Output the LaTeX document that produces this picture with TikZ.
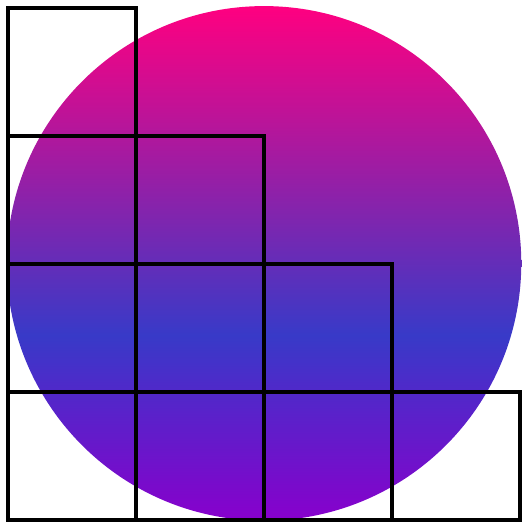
\documentclass[tikz,border=0pt]{standalone}
\usepackage{tikz}
\definecolor{disctop}{RGB}{255,0,128}
\definecolor{discmid}{RGB}{56,58,200}
\definecolor{discbot}{RGB}{136,0,204}
\pgfdeclareverticalshading{disc}{100bp}{color(0bp)=(discbot); color(25bp)=(discbot); color(43bp)=(discmid); color(75bp)=(disctop); color(100bp)=(disctop)}

\begin{document}
\begin{tikzpicture}[cell/.style={draw=black,line width=1.8pt}]
\useasboundingbox (-0.125,-0.0625) rectangle (8.031,8.125);
\shade[shading=disc] (4,4.01) circle (4.02);
\foreach \r in {0,...,3}
\foreach \c in {0,...,\r}
\draw[cell] (2*\c,6-2*\r) rectangle ++(2,2);
\end{tikzpicture}
\end{document}
